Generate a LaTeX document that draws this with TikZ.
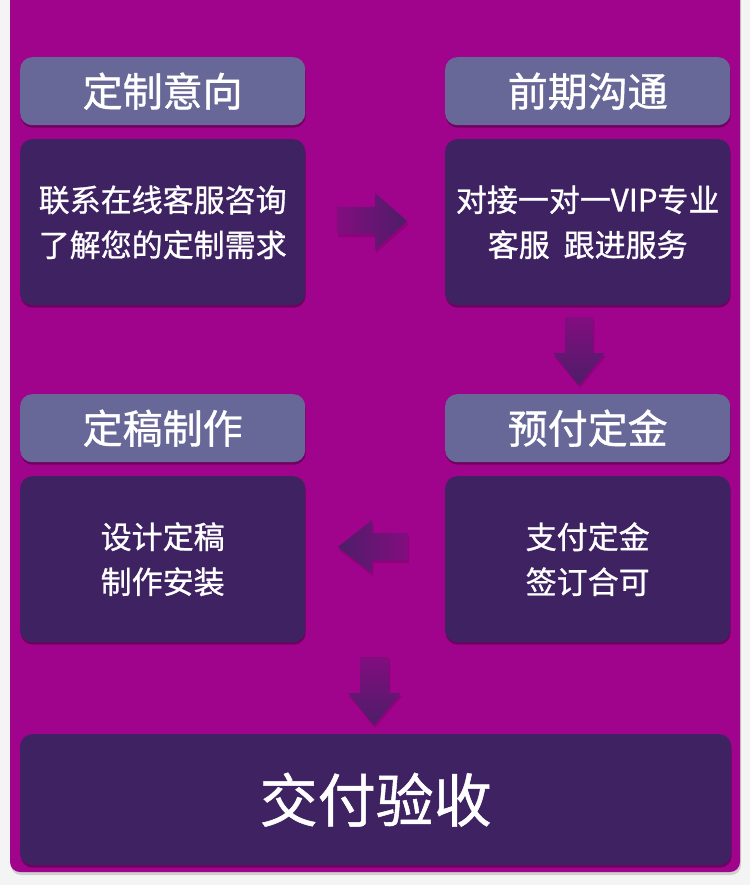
\documentclass[tikz,border=0pt]{standalone}
\usepackage{fontspec}
\setmainfont{Noto Sans CJK SC}[FakeBold=0.9]
\usetikzlibrary{shadows}
\definecolor{bgmag}{HTML}{A0048C}
\definecolor{darkbox}{HTML}{3E2262}
\definecolor{headbox}{HTML}{686898}
\definecolor{pagebg}{HTML}{F4F4F4}
\begin{document}
\begin{tikzpicture}[x=1pt,y=-1pt,
  softshadow/.style={drop shadow={shadow xshift=0.5pt,shadow yshift=-2.5pt,opacity=0.3,fill=black}},
  hbox/.style={fill=headbox, rounded corners=12pt, minimum width=285pt, minimum height=68pt,
    anchor=north west, text=white, font=\fontsize{40}{48}\selectfont, inner sep=0pt, softshadow},
  bbox/.style={fill=darkbox, rounded corners=12pt, minimum width=285pt, minimum height=166pt,
    anchor=north west, text=white, align=center, font=\fontsize{31}{45}\selectfont, inner sep=0pt, softshadow},
  harrow/.style={left color=bgmag!70!darkbox, right color=darkbox!85!bgmag},
  larrow/.style={left color=darkbox!85!bgmag, right color=bgmag!70!darkbox},
  varrow/.style={top color=bgmag!70!darkbox, bottom color=darkbox!85!bgmag},
  ashadow/.style={fill=black, opacity=0.12}
]
\useasboundingbox (0,0) rectangle (750,885);
\fill[pagebg] (0,0) rectangle (750,885);
\fill[black, opacity=0.15, rounded corners=10pt] (11,-20) rectangle (741,875);
\fill[bgmag, rounded corners=10pt] (10,-20) rectangle (740,872);

% headers
\node[hbox] (h1) at (20,57) {定制意向};
\node[hbox] (h2) at (445,57) {前期沟通};
\node[hbox] (h3) at (20,394) {定稿制作};
\node[hbox] (h4) at (445,394) {预付定金};

% bodies
\node[bbox] (b1) at (20,139) {联系在线客服咨询\\了解您的定制需求};
\node[bbox] (b2) at (445,139) {对接一对一VIP专业\\客服\hspace{0.45em}跟进服务};
\node[bbox] (b3) at (20,476) {设计定稿\\制作安装};
\node[bbox] (b4) at (445,476) {支付定金\\签订合可};
\node[bbox, minimum width=711pt, minimum height=131pt, font=\fontsize{58}{64}\selectfont] (b5) at (20,734) {交付验收};

% right arrow
\fill[ashadow] (338,210) -- (376,210) -- (376,196) -- (409,224) -- (376,253) -- (376,237) -- (338,237) -- cycle;
\shade[harrow] (337,207) -- (375,207) -- (375,193) -- (407,221) -- (375,250) -- (375,234) -- (337,234) -- cycle;
% down arrow 1
\fill[ashadow] (566,320) -- (594,320) -- (594,356) -- (606,356) -- (580,388) -- (554,356) -- (566,356) -- cycle;
\shade[varrow] (565,317) -- (593,317) -- (593,353) -- (605,353) -- (579,385) -- (553,353) -- (565,353) -- cycle;
% left arrow
\fill[ashadow] (409,536) -- (373,536) -- (373,523) -- (339,550) -- (373,576) -- (373,563) -- (409,563) -- cycle;
\shade[larrow] (408,533) -- (372,533) -- (372,520) -- (338,547) -- (372,573) -- (372,560) -- (408,560) -- cycle;
% down arrow 2
\fill[ashadow] (361,660) -- (390,660) -- (390,696) -- (402,696) -- (375,728) -- (349,696) -- (361,696) -- cycle;
\shade[varrow] (360,657) -- (389,657) -- (389,693) -- (401,693) -- (374,725) -- (348,693) -- (360,693) -- cycle;
\end{tikzpicture}
\end{document}
